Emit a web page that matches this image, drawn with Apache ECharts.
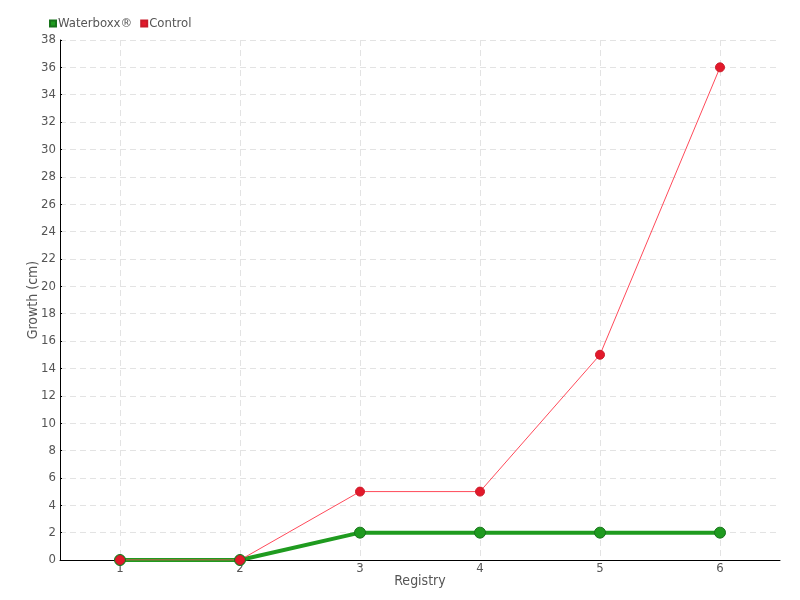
<!DOCTYPE html>
<html><head><meta charset="utf-8">
<script src="https://cdn.jsdelivr.net/npm/echarts@6/dist/echarts.min.js"></script>
<style>html,body{margin:0;padding:0;background:#fff}#c{width:800px;height:600px}</style>
</head><body><div id="c"></div>
<script>
const categories = ['1','2','3','4','5','6'];
const waterboxx = [0,0,2,2,2,2];
const control = [0,0,5,5,15,36];
const FONT = '"Liberation Sans Narrow","DejaVu Sans Condensed","Roboto",sans-serif';
const chart = echarts.init(document.getElementById('c'));
chart.setOption({
  animation:false,
  textStyle:{fontFamily:FONT},
  legend:{left:44,top:12,itemWidth:6,itemHeight:6,itemGap:8,icon:'rect',
    textStyle:{color:'#555',fontSize:13,fontFamily:FONT,padding:[0,0,0,-3]},
    data:['Waterboxx®','Control']},
  grid:{left:60,right:20,top:40,bottom:40,outerBoundsMode:'none'},
  xAxis:{type:'category',data:categories,boundaryGap:true,
    name:'Registry',nameLocation:'middle',nameGap:14,nameMoveOverlap:false,
    nameTextStyle:{color:'#555',fontSize:14,fontFamily:FONT},
    axisLine:{lineStyle:{color:'#000'}},
    axisTick:{alignWithLabel:true,length:5,lineStyle:{color:'#000'}},
    axisLabel:{color:'#555',fontSize:13,fontFamily:FONT,margin:2},
    splitLine:{show:true,alignWithLabel:true,lineStyle:{color:'#e3e3e3',type:[6,4]}}},
  yAxis:{type:'value',min:0,max:38,interval:2,
    name:'Growth (cm)',nameLocation:'middle',nameGap:20,nameMoveOverlap:false,
    nameTextStyle:{color:'#555',fontSize:14,fontFamily:FONT},
    axisLine:{show:true,lineStyle:{color:'#000'}},
    axisTick:{show:true,inside:true,length:2,lineStyle:{color:'#000'}},
    axisLabel:{color:'#555',fontSize:13,fontFamily:FONT,margin:4},
    splitLine:{show:true,lineStyle:{color:'#e3e3e3',type:[6,4]}}},
  series:[
    {name:'Waterboxx®',type:'line',data:waterboxx,symbol:'circle',symbolSize:11,
      itemStyle:{color:'#1f9b1f',borderColor:'#17731a',borderWidth:1},
      lineStyle:{color:'#1f9b1f',width:4}},
    {name:'Control',type:'line',data:control,symbol:'circle',symbolSize:9,
      itemStyle:{color:'#e3192b',borderColor:'#c91a28',borderWidth:1},
      lineStyle:{color:'#ff4a5a',width:1}}
  ]
});
</script></body></html>
